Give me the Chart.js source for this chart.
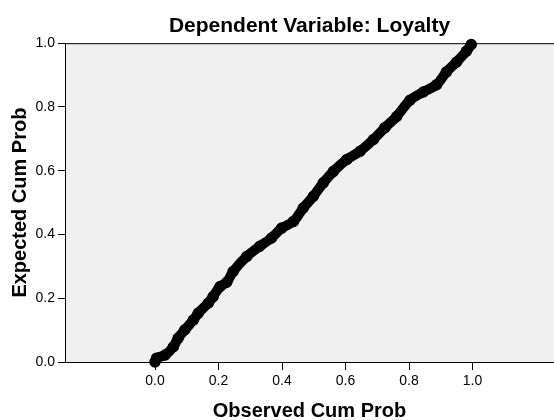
<!DOCTYPE html>
<html>
<head>
<meta charset="utf-8">
<script src="https://cdn.jsdelivr.net/npm/chart.js@4/dist/chart.umd.min.js"></script>
<style>
html,body{margin:0;padding:0;background:#fff;overflow:hidden;}
#wrap{width:554px;height:420px;overflow:hidden;}
canvas{display:block;}
</style>
</head>
<body>
<div id="wrap"><canvas id="c" width="554" height="420"></canvas></div>
<script>
const chartTitle = "Dependent Variable: Loyalty";
const xTitle = "Observed Cum Prob";
const yTitle = "Expected Cum Prob";
const tickValues = [0, 0.2, 0.4, 0.6, 0.8, 1.0];
const observedCumProb = [0.000, 0.005, 0.032, 0.058, 0.073, 0.094, 0.121, 0.136, 0.168, 0.183, 0.205, 0.226, 0.246, 0.289, 0.330, 0.367, 0.399, 0.436, 0.467, 0.499, 0.530, 0.562, 0.604, 0.646, 0.688, 0.724, 0.761, 0.803, 0.845, 0.887, 0.918, 0.950, 0.981, 0.996];
const expectedCumProb = [0.000, 0.012, 0.022, 0.048, 0.075, 0.101, 0.132, 0.153, 0.185, 0.205, 0.237, 0.250, 0.284, 0.331, 0.363, 0.389, 0.420, 0.441, 0.483, 0.520, 0.562, 0.598, 0.635, 0.661, 0.698, 0.735, 0.770, 0.821, 0.847, 0.870, 0.910, 0.941, 0.975, 0.996];

const points = observedCumProb.map((x, i) => ({x: x, y: expectedCumProb[i]}));

const frame = {
  id: 'frame',
  beforeDraw(chart) {
    const {ctx, chartArea: a} = chart;
    ctx.save();
    ctx.fillStyle = '#F0F0F0';
    ctx.fillRect(a.left, a.top, a.right - a.left, a.bottom - a.top);
    ctx.restore();
  },
  afterDatasetsDraw(chart) {
    const {ctx, chartArea: a} = chart;
    ctx.save();
    ctx.strokeStyle = '#000';
    ctx.lineWidth = 1;
    ctx.beginPath();
    ctx.moveTo(a.left, a.top + 0.5);
    ctx.lineTo(a.right, a.top + 0.5);
    ctx.stroke();
    ctx.restore();
  }
};

const fontFam = "'Liberation Sans', Arial, sans-serif";

new Chart(document.getElementById('c'), {
  type: 'scatter',
  data: {
    datasets: [{
      data: points,
      showLine: true,
      borderColor: '#000',
      borderWidth: 10,
      borderCapStyle: 'round',
      borderJoinStyle: 'round',
      tension: 0.3,
      pointRadius: 5,
      pointBorderWidth: 1.5,
      pointBorderColor: '#000',
      pointBackgroundColor: '#000',
      clip: false
    }]
  },
  plugins: [frame],
  options: {
    responsive: false,
    animation: false,
    layout: {padding: 0, autoPadding: false},
    plugins: {
      legend: {display: false},
      tooltip: {enabled: false},
      title: {
        display: true,
        text: chartTitle,
        fullSize: false,
        color: '#000',
        font: {family: fontFam, size: 21, weight: 'bold', lineHeight: 1.2},
        padding: {top: 14, bottom: 4}
      }
    },
    scales: {
      x: {
        type: 'linear',
        min: -0.2835,
        max: 1.2567,
        afterBuildTicks(s) { s.ticks = tickValues.map(v => ({value: v})); },
        afterFit(s) { s.height = 58; s.paddingLeft = 0; s.paddingRight = 0; },
        ticks: {
          color: '#000',
          font: {family: fontFam, size: 14},
          padding: 3,
          maxRotation: 0,
          callback: v => Number(v).toFixed(1)
        },
        grid: {display: true, drawOnChartArea: false, drawTicks: true, tickLength: 8, tickColor: '#000', tickWidth: 1},
        border: {display: true, color: '#000', width: 1},
        title: {
          display: true,
          text: xTitle,
          color: '#000',
          font: {family: fontFam, size: 20, weight: 'bold', lineHeight: 0.9},
          padding: {top: 0, bottom: 0}
        }
      },
      y: {
        type: 'linear',
        min: 0,
        max: 1,
        afterBuildTicks(s) { s.ticks = tickValues.map(v => ({value: v})); },
        afterFit(s) { s.width = 65; },
        ticks: {
          color: '#000',
          font: {family: fontFam, size: 14},
          padding: 3,
          callback: v => Number(v).toFixed(1)
        },
        grid: {display: true, drawOnChartArea: false, drawTicks: true, tickLength: 7, tickColor: '#000', tickWidth: 1},
        border: {display: true, color: '#000', width: 1},
        title: {
          display: true,
          text: yTitle,
          color: '#000',
          font: {family: fontFam, size: 20, weight: 'bold', lineHeight: 1.2},
          padding: {top: 8, bottom: 0}
        }
      }
    }
  }
});
</script>
</body>
</html>
